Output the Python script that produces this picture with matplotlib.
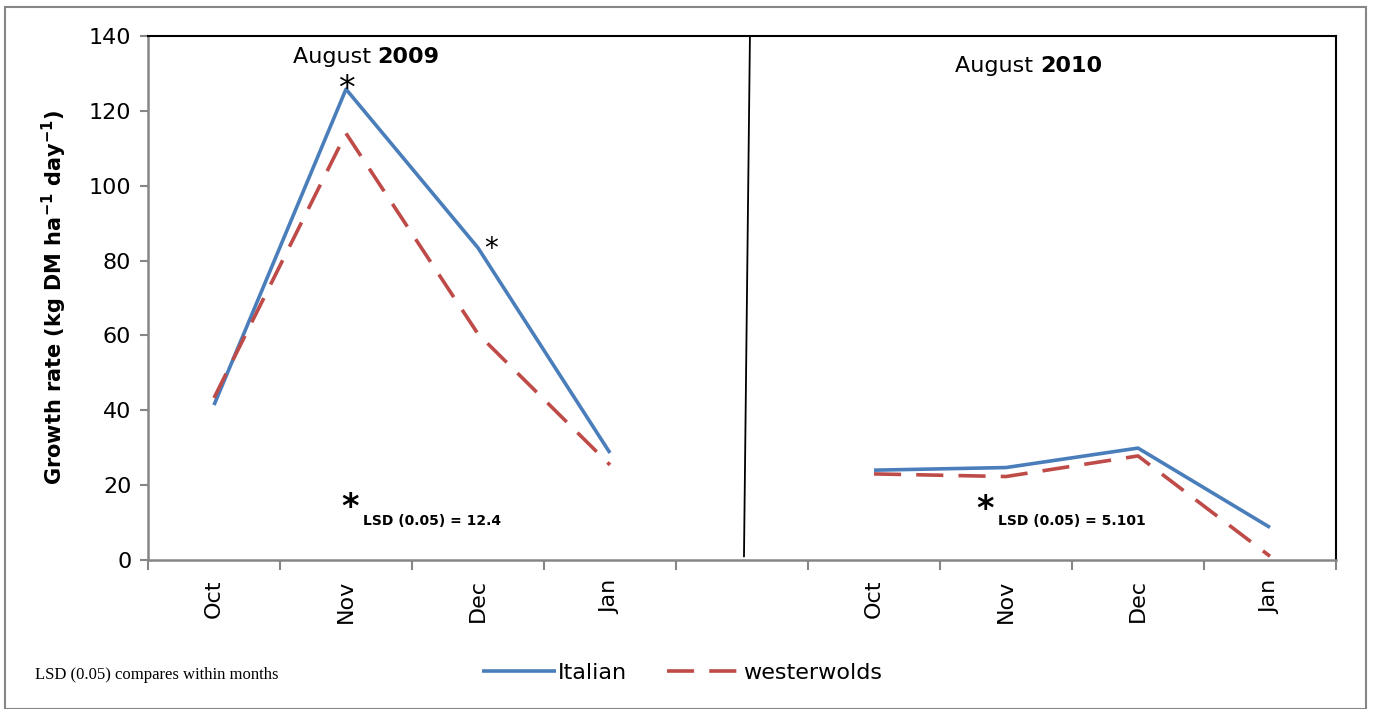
import matplotlib
matplotlib.use("Agg")
import matplotlib.pyplot as plt
from matplotlib.patches import Rectangle
import numpy as np

categories = ["Oct", "Nov", "Dec", "Jan", "", "Oct", "Nov", "Dec", "Jan"]
italian = [41.4, 125.8, 83.4, 28.6, np.nan, 24.0, 24.7, 29.9, 8.7]
westerwolds = [43.3, 114.0, 60.4, 25.4, np.nan, 23.0, 22.3, 27.8, 1.0]
yticks = [0, 20, 40, 60, 80, 100, 120, 140]

blue = "#4A7EBB"
red = "#BE4B48"
gray = "#868686"

W, H = 1373, 709
fig = plt.figure(figsize=(W / 100, H / 100), dpi=100)
ax = fig.add_axes([148 / W, 1 - 560 / H, (1336 - 148) / W, (560 - 36) / H])

x = np.arange(len(categories))
ax.plot(x, italian, color=blue, lw=2.6, label="Italian", solid_capstyle="butt")
ax.plot(x, westerwolds, color=red, lw=2.6, dashes=(7.5, 4.2), label="westerwolds")

ax.set_xlim(-0.5, len(categories) - 0.5)
ax.set_ylim(0, 140)
ax.set_yticks(yticks)
ax.set_yticklabels([str(v) for v in yticks], fontsize=16)
ax.set_xticks(x)
ax.set_xticklabels(categories, rotation=90, fontsize=16)
ax.tick_params(axis="x", length=0, pad=14)
ax.set_xticks(np.arange(-0.5, len(categories), 1.0), minor=True)
ax.tick_params(axis="x", which="minor", length=7, color=gray, width=1.5, direction="out")
ax.tick_params(axis="y", length=6, color=gray, width=1.5, direction="out", pad=6)

for s in ["left", "bottom"]:
    ax.spines[s].set_color(gray)
    ax.spines[s].set_linewidth(1.8)
for s in ["top", "right"]:
    ax.spines[s].set_color("black")
    ax.spines[s].set_linewidth(1.5)

ax.set_ylabel("Growth rate (kg DM ha$^{\\mathbf{-1}}$ day$^{\\mathbf{-1}}$)", fontsize=15,
              fontweight="bold", labelpad=14)

# divider between years
ax.plot([4.06, 4.015], [139.5, 1.0], color="black", lw=1.3)

# titles
ax.text(1.24, 134.5, "August ", fontsize=16, ha="right", va="center")
ax.text(1.24, 134.5, "2009", fontsize=16, fontweight="bold", ha="left", va="center")
ax.text(6.26, 132.0, "August ", fontsize=16, ha="right", va="center")
ax.text(6.26, 132.0, "2010", fontsize=16, fontweight="bold", ha="left", va="center")

# significance asterisks
ax.text(1.0, 125.8, "*", fontsize=24, ha="center", va="center")
ax.text(2.1, 83.0, "*", fontsize=20, ha="center", va="center")

# LSD notes
ax.text(1.03, 14.0, "*", fontsize=24, fontweight="bold", ha="center", va="center")
ax.text(1.13, 10.5, "LSD (0.05) = 12.4", fontsize=10, fontweight="bold", ha="left", va="center")
ax.text(5.84, 13.5, "*", fontsize=24, fontweight="bold", ha="center", va="center")
ax.text(5.94, 10.5, "LSD (0.05) = 5.101", fontsize=10, fontweight="bold", ha="left", va="center")

# legend
fig.legend(loc="center", bbox_to_anchor=(682 / W, 1 - 673 / H), ncol=2, frameon=False,
           fontsize=16, handlelength=3.3, handletextpad=0.1, columnspacing=1.8,
           borderaxespad=0)

fig.text(35 / W, 1 - 675 / H, "LSD (0.05) compares within months", fontsize=12,
         family="Liberation Serif", ha="left", va="center")

fig.patches.append(Rectangle((5 / W, 0.0), (1366 - 5) / W, 1 - 7 / H, transform=fig.transFigure,
                             fill=False, edgecolor=gray, lw=1.5))

fig.savefig("out.png", dpi=100)
